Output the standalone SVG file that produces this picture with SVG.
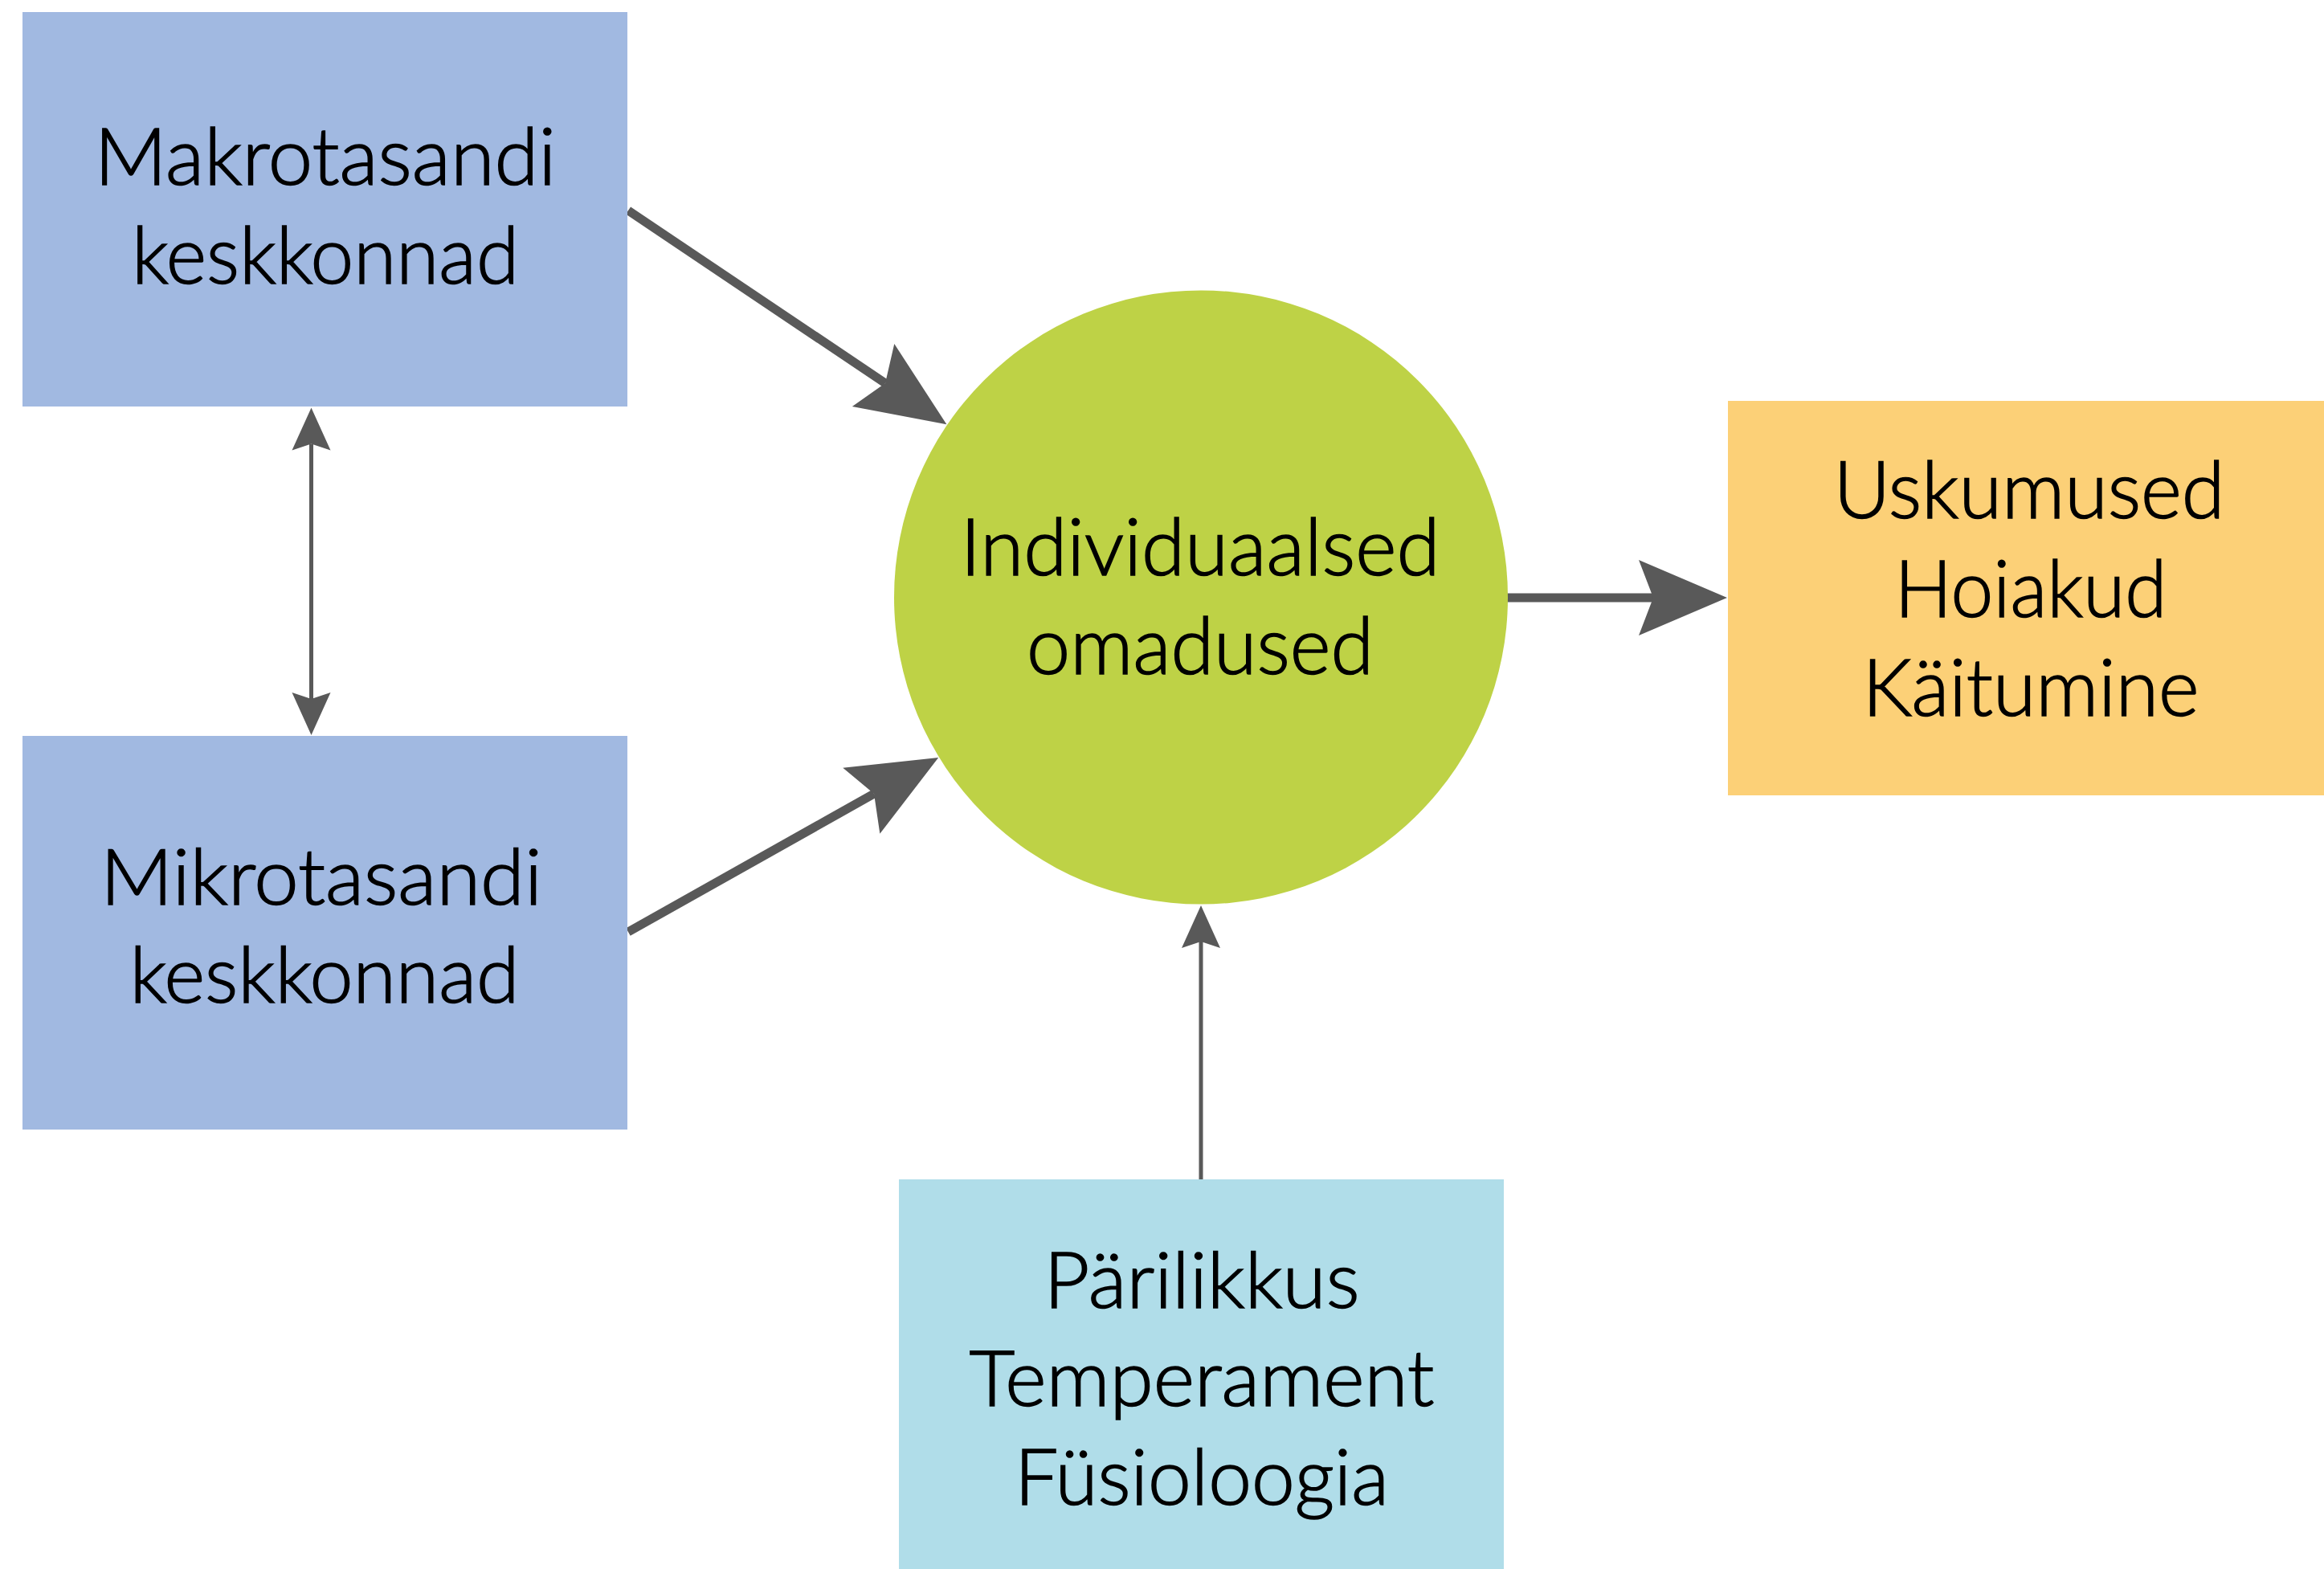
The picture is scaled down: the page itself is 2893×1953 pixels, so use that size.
<svg xmlns="http://www.w3.org/2000/svg" width="2893" height="1953" viewBox="0 0 2893 1953">
  <style>
    .lbl { font-family: Lato, "Open Sans", "Noto Sans", sans-serif; font-weight: 300; fill: #000; stroke: #000; stroke-width: 1.6; text-anchor: middle; }
    .big { font-size: 98px; }
    .mid { font-size: 96px; }
    .conn-thick { stroke: #595959; stroke-width: 11; fill: none; }
    .conn-thin { stroke: #595959; stroke-width: 5; fill: none; }
  </style>
  <defs>
    <marker id="headBig" markerUnits="userSpaceOnUse" viewBox="-20 -49 114 98" markerWidth="114" markerHeight="98" refX="0" refY="0" orient="auto">
      <path d="M92,0 L-18,-47 L0,0 L-18,47 Z" fill="#595959"/>
    </marker>
    <marker id="headSmall" markerUnits="userSpaceOnUse" viewBox="-10 -26 57 52" markerWidth="57" markerHeight="52" refX="0" refY="0" orient="auto-start-reverse">
      <path d="M45,0 L-8,-24 L0,0 L-8,24 Z" fill="#595959"/>
    </marker>
  </defs>
  <rect width="2893" height="1953" fill="#ffffff"/>

  <g id="connectors">
    <line class="conn-thick" x1="782" y1="262" x2="1102" y2="477" marker-end="url(#headBig)"/>
    <line class="conn-thick" x1="782" y1="1160" x2="1088" y2="988" marker-end="url(#headBig)"/>
    <line class="conn-thick" x1="1876" y1="744" x2="2058" y2="744" marker-end="url(#headBig)"/>
    <line class="conn-thin" x1="387.5" y1="552.6" x2="387.5" y2="870" marker-start="url(#headSmall)" marker-end="url(#headSmall)"/>
    <line class="conn-thin" x1="1495" y1="1468" x2="1495" y2="1172" marker-end="url(#headSmall)"/>
  </g>

  <g id="makro">
    <rect x="28" y="15" width="753" height="491" fill="#A1B9E1"/>
    <text class="lbl big" x="405" y="230" textLength="575" lengthAdjust="spacingAndGlyphs">Makrotasandi</text>
    <text class="lbl big" x="405" y="353" textLength="482" lengthAdjust="spacingAndGlyphs">keskkonnad</text>
  </g>

  <g id="mikro">
    <rect x="28" y="916" width="753" height="490" fill="#A1B9E1"/>
    <text class="lbl mid" x="400" y="1126" textLength="550" lengthAdjust="spacingAndGlyphs">Mikrotasandi</text>
    <text class="lbl mid" x="404" y="1248" textLength="485" lengthAdjust="spacingAndGlyphs">keskkonnad</text>
  </g>

  <g id="individuaalsed">
    <circle cx="1495" cy="743.5" r="382" fill="#BED246"/>
    <text class="lbl big" x="1494" y="716" textLength="597" lengthAdjust="spacingAndGlyphs">Individuaalsed</text>
    <text class="lbl big" x="1494" y="839" textLength="432" lengthAdjust="spacingAndGlyphs">omadused</text>
  </g>

  <g id="uskumused">
    <rect x="2151" y="499" width="742" height="491" fill="#FCD077"/>
    <text class="lbl big" x="2526" y="645" textLength="487" lengthAdjust="spacingAndGlyphs">Uskumused</text>
    <text class="lbl big" x="2528" y="768" textLength="339" lengthAdjust="spacingAndGlyphs">Hoiakud</text>
    <text class="lbl big" x="2528" y="891" textLength="419" lengthAdjust="spacingAndGlyphs">Käitumine</text>
  </g>

  <g id="parilikkus">
    <rect x="1119" y="1468" width="753" height="485" fill="#B0DDE9"/>
    <text class="lbl mid" x="1496" y="1628" textLength="393" lengthAdjust="spacingAndGlyphs">Pärilikkus</text>
    <text class="lbl mid" x="1496" y="1750" textLength="579" lengthAdjust="spacingAndGlyphs">Temperament</text>
    <text class="lbl mid" x="1496" y="1873" textLength="466" lengthAdjust="spacingAndGlyphs">Füsioloogia</text>
  </g>
</svg>
